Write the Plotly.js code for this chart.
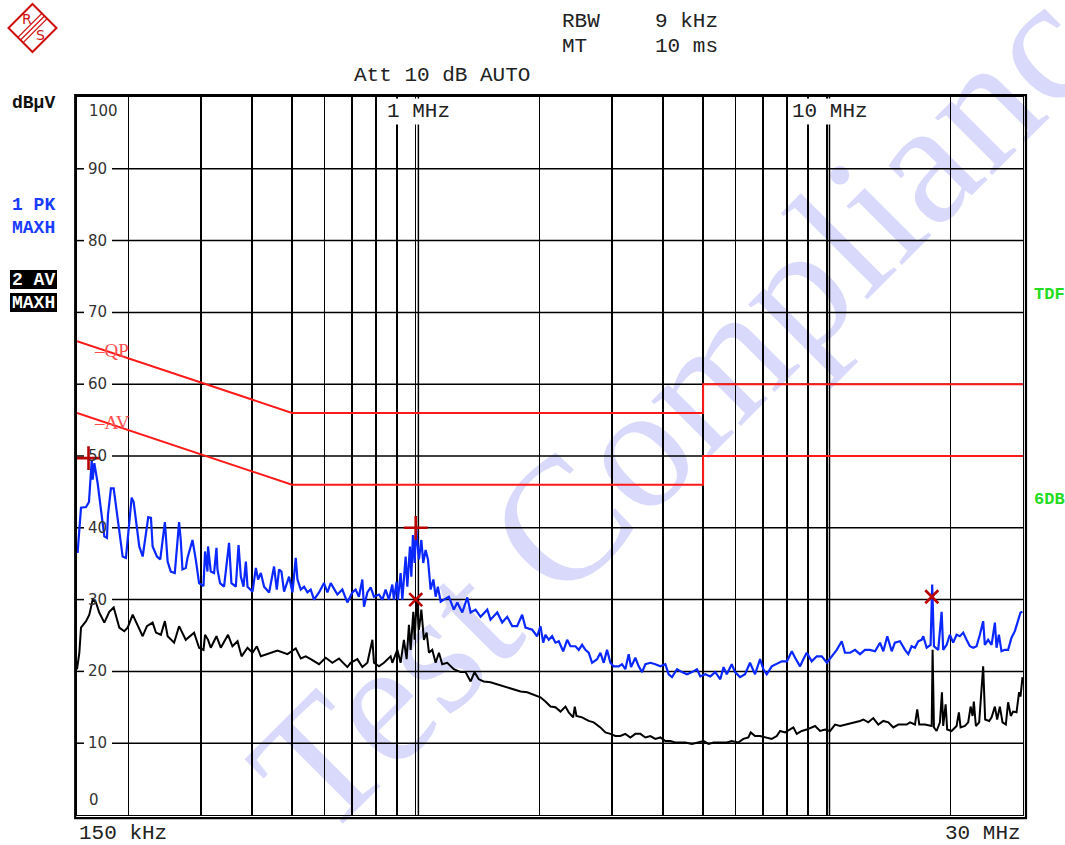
<!DOCTYPE html>
<html><head><meta charset="utf-8">
<script src="https://cdn.plot.ly/plotly-3.0.1.min.js"></script>
<style>html,body{margin:0;padding:0;background:#fff}#chart{width:1065px;height:845px}</style>
</head><body><div id="chart"></div>
<script>
// ---- data (frequency in MHz, level in dBuV) ----
const freqPK = [0.1505,0.1534,0.1578,0.1604,0.1629,0.1638,0.1653,0.1684,0.1748,0.1774,0.1784,0.1814,0.1842,0.1937,0.1973,0.1992,0.2037,0.2060,0.2087,0.2126,0.2167,0.2195,0.2236,0.2270,0.2291,0.2347,0.2391,0.2454,0.2492,0.2536,0.2594,0.2657,0.2682,0.2708,0.2758,0.2785,0.2864,0.2917,0.2972,0.3046,0.3073,0.3115,0.3125,0.3173,0.3232,0.3276,0.3294,0.3342,0.3418,0.3515,0.3562,0.3651,0.3707,0.3755,0.3812,0.3862,0.3898,0.4009,0.4084,0.4136,0.4200,0.4278,0.4399,0.4523,0.4592,0.4652,0.4714,0.4784,0.4920,0.5014,0.5107,0.5156,0.5253,0.5351,0.5453,0.5554,0.5657,0.5818,0.5983,0.6098,0.6212,0.6449,0.6630,0.6818,0.7012,0.7142,0.7275,0.7416,0.7485,0.7628,0.7770,0.7915,0.8140,0.8296,0.8448,0.8606,0.8771,0.8851,0.8985,0.9050,0.9188,0.9276,0.9451,0.9541,0.9681,0.9757,0.9845,0.9939,1.002,1.018,1.032,1.043,1.057,1.071,1.087,1.104,1.118,1.132,1.150,1.171,1.204,1.238,1.262,1.298,1.335,1.360,1.398,1.438,1.493,1.520,1.579,1.623,1.669,1.717,1.765,1.815,1.849,1.920,1.974,2.011,2.042,2.068,2.107,2.147,2.187,2.228,2.284,2.335,2.379,2.446,2.492,2.539,2.587,2.635,2.685,2.762,2.813,2.866,2.920,2.975,3.030,3.116,3.176,3.235,3.296,3.340,3.421,3.486,3.553,3.619,3.722,3.827,3.936,4.047,4.123,4.202,4.321,4.443,4.569,4.699,4.833,4.922,5.062,5.205,5.353,5.505,5.608,5.709,5.870,5.980,6.149,6.324,6.503,6.688,6.880,7.008,7.142,7.345,7.554,7.770,7.999,8.218,8.371,8.606,8.766,8.935,9.188,9.451,9.719,10.00,10.28,10.57,10.87,11.07,11.39,11.71,12.04,12.38,12.73,13.10,13.47,13.72,14.03,14.38,14.64,15.06,15.49,15.78,16.08,16.38,16.68,17.00,17.16,17.49,17.88,18.04,18.22,18.66,19.02,19.19,19.56,19.92,20.29,20.68,21.07,21.46,21.87,22.28,22.70,23.13,23.56,24.00,24.23,24.68,25.16,25.63,25.87,26.21,26.60,27.10,27.60,28.13,28.66,29.19,29.58,29.92];
const levelPK = [36.5,42.8,42.9,43.6,49.4,46.7,49.0,46.2,38.8,38.6,41.8,45.5,45.5,36.0,35.8,38.3,44.2,43.6,40.7,37.4,36.0,38.3,41.5,41.4,37.4,36.0,35.6,40.8,35.3,33.9,33.7,40.8,38.3,34.2,34.4,35.8,38.3,35.6,32.3,31.9,36.7,33.9,37.4,33.9,33.7,37.2,34.2,32.3,31.8,37.9,32.3,31.8,37.6,33.2,31.8,35.3,31.8,31.1,34.4,32.8,33.7,31.8,31.0,34.6,31.4,34.2,33.9,31.1,33.2,31.0,35.8,32.8,31.4,31.8,31.0,31.4,30.0,31.0,32.3,31.0,32.3,30.7,31.4,29.6,31.0,31.4,30.4,32.8,29.0,31.0,31.7,30.4,30.7,30.0,31.4,30.0,32.1,30.0,32.5,30.0,33.7,30.0,36.0,31.8,37.4,33.2,39.0,35.1,40.0,35.6,38.3,35.1,36.9,35.6,31.4,32.8,30.4,31.8,29.7,30.0,30.4,28.6,29.6,28.2,30.3,28.2,28.6,27.6,28.6,27.2,28.2,26.8,27.6,26.3,26.3,27.9,26.1,25.8,24.9,26.3,24.0,25.1,24.4,24.9,24.0,24.2,22.8,24.4,23.5,23.5,23.0,23.7,23.0,22.6,21.2,21.7,22.6,21.2,23.0,21.2,20.7,20.7,21.0,20.3,22.4,20.6,21.9,20.7,19.9,21.0,21.2,21.0,20.7,21.0,19.6,19.2,20.3,19.9,19.6,19.9,20.3,19.3,19.6,19.3,19.9,18.9,20.6,19.6,21.0,19.9,19.2,19.6,21.2,19.6,21.7,20.3,19.6,20.7,21.0,21.4,21.4,22.8,21.9,20.7,21.7,22.6,21.4,22.1,22.1,21.2,22.1,23.0,24.2,22.6,22.6,23.0,22.4,23.0,23.0,22.8,24.0,22.8,24.9,22.8,24.0,24.2,23.0,22.4,23.5,23.3,24.2,24.4,24.9,23.3,23.7,32.1,23.5,23.0,28.3,23.0,23.7,25.1,24.0,25.1,24.9,25.4,24.4,23.5,23.3,23.5,25.1,27.0,23.7,24.4,23.7,26.8,23.3,25.1,22.8,23.0,23.0,24.7,25.6,27.0,28.2,28.3];

const freqAV = [0.1500,0.1520,0.1534,0.1578,0.1607,0.1638,0.1668,0.1699,0.1748,0.1797,0.1842,0.1901,0.1955,0.1992,0.2049,0.2107,0.2167,0.2219,0.2291,0.2334,0.2400,0.2454,0.2492,0.2584,0.2657,0.2758,0.2890,0.2972,0.3046,0.3073,0.3125,0.3173,0.3276,0.3356,0.3495,0.3582,0.3686,0.3770,0.3898,0.4009,0.4107,0.4200,0.4360,0.4610,0.4875,0.5107,0.5253,0.5401,0.5554,0.5818,0.6040,0.6271,0.6507,0.6818,0.6945,0.7211,0.7416,0.7628,0.7845,0.7915,0.8140,0.8371,0.8689,0.8771,0.9020,0.9188,0.9359,0.9504,0.9627,0.9719,0.9867,0.9939,1.005,1.018,1.032,1.047,1.063,1.077,1.097,1.118,1.139,1.160,1.193,1.238,1.286,1.322,1.360,1.390,1.424,1.464,1.520,1.579,1.638,1.732,1.799,1.867,1.974,2.011,2.068,2.127,2.187,2.250,2.313,2.356,2.415,2.437,2.460,2.539,2.635,2.710,2.813,2.893,2.975,3.059,3.146,3.235,3.327,3.421,3.519,3.619,3.722,3.827,3.936,4.047,4.162,4.280,4.401,4.526,4.699,4.833,5.014,5.156,5.303,5.505,5.709,5.870,6.091,6.264,6.442,6.529,6.688,6.880,7.142,7.345,7.554,7.697,7.915,8.140,8.291,8.448,8.689,8.935,9.188,9.361,9.627,9.900,10.18,10.47,10.77,11.18,11.60,12.04,12.27,12.61,12.97,13.34,13.72,14.11,14.51,14.92,15.34,15.64,15.93,16.38,16.59,16.78,17.32,17.99,18.08,18.22,18.49,18.84,19.05,19.19,19.45,19.62,20.11,20.68,20.95,21.15,21.67,22.07,22.37,22.62,22.78,23.04,23.47,24.00,24.27,24.82,25.16,25.63,25.96,26.35,26.75,27.25,27.60,28.02,28.38,28.93,29.35,29.58,29.92];
const levelAV = [20.3,22.6,26.1,27.0,27.9,30.0,29.6,28.2,26.8,28.3,28.9,26.1,25.6,26.1,27.9,26.5,24.9,26.3,26.8,25.4,25.1,27.0,24.9,24.0,26.3,24.4,25.4,23.3,23.0,25.1,24.4,23.3,24.9,23.3,25.1,23.5,24.2,22.1,23.3,22.6,23.5,22.1,22.4,22.9,22.4,23.2,21.8,22.1,21.7,21.0,21.9,21.2,21.8,20.6,21.2,21.7,20.6,21.2,24.4,21.2,20.7,21.2,22.1,21.2,23.0,21.2,24.4,21.7,26.5,23.0,28.3,24.4,30.0,25.8,28.6,24.4,25.4,22.6,23.0,21.2,22.6,21.0,21.2,20.3,19.9,19.9,18.6,19.9,18.9,18.6,18.5,18.2,17.9,17.5,17.2,17.1,16.5,16.4,15.8,15.1,15.0,14.4,15.1,14.3,13.6,15.1,13.8,13.6,13.1,12.9,12.2,11.5,11.3,11.0,11.0,11.3,10.8,11.3,11.3,10.8,11.0,10.6,10.8,10.3,10.3,10.1,10.1,10.1,9.9,10.1,10.3,9.9,10.1,10.1,10.1,10.3,10.1,10.6,10.8,11.5,11.0,11.0,10.8,10.6,11.0,11.7,11.5,11.9,12.2,11.3,11.7,11.9,12.2,12.4,11.7,11.9,11.7,12.6,12.4,12.6,12.9,13.1,13.3,12.9,13.5,12.6,13.1,12.9,12.2,12.6,12.6,12.6,12.9,12.6,14.7,12.6,12.6,12.4,23.0,12.2,11.7,12.9,17.1,12.4,15.4,11.9,11.7,12.4,14.3,12.2,12.4,12.9,15.1,13.8,15.8,12.4,12.9,20.7,13.3,13.1,13.6,15.1,13.3,15.1,12.9,12.6,15.7,13.8,14.4,14.3,17.1,16.5,19.2];

const limitFreq = [0.15,0.5,0.5,5,5,30];
const limitQP = [66,56,56,56,60,60];
const limitAVl = [56,46,46,46,50,50];

const gridFreq = [0.2,0.3,0.4,0.5,0.6,0.7,0.8,0.9,1,2,3,4,5,6,7,8,9,10,20];
const gridLevel = [10,20,30,40,50,60,70,80,90];
const yLabels = ['10','20','30','40','50','60','70','80','90'];

const plusFreq = [0.16,1.0], plusLevel = [49.7,40.0];
const crossFreq = [1.0,18.0], crossLevel = [30.0,30.4];

// ---- pixel helpers for decorations ----
const L=77, T=97, W=946, H=718;
const px = x => (x - L) / W;
const py = y => (T + H - y) / H;

const mkRed = '#b80000';
const traces = [
  {x: limitFreq, y: limitQP, mode:'lines', line:{color:'#ff1a1a', width:2}, hoverinfo:'skip'},
  {x: limitFreq, y: limitAVl, mode:'lines', line:{color:'#ff1a1a', width:2}, hoverinfo:'skip'},
  {x: freqAV, y: levelAV, mode:'lines', line:{color:'#000000', width:2}},
  {x: freqPK, y: levelPK, mode:'lines', line:{color:'#0a28ff', width:2.2}},
  {x: plusFreq, y: plusLevel, mode:'markers', marker:{symbol:'cross-thin-open', size:17, color:mkRed, line:{color:mkRed, width:2.6}}},
  {x: crossFreq, y: crossLevel, mode:'markers', marker:{symbol:'x-thin-open', size:13, color:mkRed, line:{color:mkRed, width:2.6}}}
];

const shapes = [];
gridLevel.forEach(v => {
  shapes.push({type:'line', xref:'paper', yref:'y', x0:0, x1:px(84), y0:v, y1:v, line:{color:'#000', width:1.5}, layer:'below'});
  shapes.push({type:'line', xref:'paper', yref:'y', x0:px(112), x1:1, y0:v, y1:v, line:{color:'#000', width:1.5}, layer:'below'});
});
[1.015, 10.15].forEach(f => shapes.push({type:'line', xref:'x', yref:'paper', x0:f, x1:f, y0:0, y1:1, line:{color:'#000', width:1.5}, layer:'below'}));
shapes.push({type:'rect', xref:'paper', yref:'paper', x0:px(75.2), x1:px(1026), y0:py(818.2), y1:py(95.2), line:{color:'#000', width:2.2}});
const lg = (a,b)=> px(a)+','+py(b);
shapes.push({type:'path', xref:'paper', yref:'paper', path:'M'+lg(32.5,4)+' L'+lg(56.5,28)+' L'+lg(32.5,52)+' L'+lg(8.5,28)+' Z', line:{color:'#cc1010', width:2}});
[-2.6,0,2.6].forEach(d => shapes.push({type:'line', xref:'paper', yref:'paper', x0:px(20.5+d), y0:py(40+d), x1:px(44.5+d), y1:py(16+d), line:{color:'#cc1010', width:1.3}}));
shapes.push({type:'rect', xref:'paper', yref:'paper', x0:px(10), x1:px(57), y0:py(289), y1:py(270), fillcolor:'#000', line:{width:0}});
shapes.push({type:'rect', xref:'paper', yref:'paper', x0:px(10), x1:px(57), y0:py(312), y1:py(293), fillcolor:'#000', line:{width:0}});

const mono = 'Liberation Mono, Courier New, monospace';
const ann = [];
function txt(t, x, y, opt={}) {
  ann.push(Object.assign({text:t, xref:'paper', yref:'paper', x:px(x), y:py(y), xanchor:'left', yanchor:'middle', showarrow:false,
    font:{family:mono, size:21, color:'#222'}}, opt));
}
// watermark (index 0, moved behind the traces after drawing)
ann.push({text:'Test Compliance', xref:'paper', yref:'paper', x:px(700), y:py(382), xanchor:'center', yanchor:'middle', showarrow:false,
  textangle:-45, font:{family:'Liberation Serif, Times New Roman, serif', size:176, color:'rgba(95,95,240,0.24)'}});
txt('RBW', 560, 21); txt('9 kHz', 653, 21);
txt('MT', 560, 47); txt('10 ms', 653, 47);
txt('Att 10 dB AUTO', 352, 75);
txt('dB\u00b5V', 10, 103, {font:{family:mono, size:18, color:'#111', weight:'bold'}});
txt('1 PK', 10, 205, {font:{family:mono, size:18, color:'#1a3cff', weight:'bold'}});
txt('MAXH', 10, 228, {font:{family:mono, size:18, color:'#1a3cff', weight:'bold'}});
txt('2 AV', 10, 279.5, {font:{family:mono, size:18, color:'#fff', weight:'bold'}});
txt('MAXH', 10, 302.5, {font:{family:mono, size:18, color:'#fff', weight:'bold'}});
txt('TDF', 1032, 294, {font:{family:mono, size:17, color:'#22dd22', weight:'bold'}});
txt('6DB', 1032, 499, {font:{family:mono, size:17, color:'#22dd22', weight:'bold'}});
txt('150 kHz', 77, 833);
txt('30 MHz', 1023, 833, {xanchor:'right'});
txt('1 MHz', 385, 111, {bgcolor:'#fff', borderpad:1});
txt('10 MHz', 790, 111, {bgcolor:'#fff', borderpad:1});
const levFont = {family:'DejaVu Sans, sans-serif', size:15, color:'#333'};
txt('100', 87, 111, {font:levFont});
txt('0', 87, 800, {font:levFont});
gridLevel.forEach((v,i) => ann.push({text:yLabels[i], xref:'paper', yref:'y', x:px(86), y:v, xanchor:'left', yanchor:'middle', showarrow:false, font:levFont}));
const limFont = {family:'Liberation Serif, Times New Roman, serif', size:19, color:'#ff4d4d'};
txt('\u2013QP', 92, 350, {font:limFont});
txt('\u2013AV', 92, 422, {font:limFont});
txt('R', 20, 19, {font:{family:'DejaVu Sans, sans-serif', size:14, color:'#cc1010'}});
txt('S', 34, 35, {font:{family:'DejaVu Sans, sans-serif', size:14, color:'#cc1010'}});

const layout = {
  width:1065, height:845,
  margin:{l:L, r:1065-L-W, t:T, b:845-T-H, pad:0},
  paper_bgcolor:'#fff', plot_bgcolor:'rgba(0,0,0,0)',
  showlegend:false,
  font:{family:mono},
  xaxis:{type:'log', range:[Math.log10(0.15), Math.log10(30)], tickmode:'array', tickvals:gridFreq, showticklabels:false, ticks:'',
    showgrid:true, gridcolor:'#000', gridwidth:1.5, showline:true, linecolor:'#000', linewidth:1.2, mirror:true, zeroline:false},
  yaxis:{range:[0,100], showgrid:false, showticklabels:false, ticks:'', showline:true, linecolor:'#000', linewidth:1.2, mirror:true, zeroline:false},
  shapes: shapes,
  annotations: ann
};
Plotly.newPlot('chart', traces, layout, {staticPlot:true, displayModeBar:false}).then(gd => {
  const wm = gd.querySelector('.annotation[data-index="0"]');
  const main = gd.querySelector('svg.main-svg');
  if (wm && main) {
    const defs = main.querySelector('defs');
    main.insertBefore(wm, defs ? defs.nextSibling : main.firstChild);
  }
});
</script>
</body></html>
